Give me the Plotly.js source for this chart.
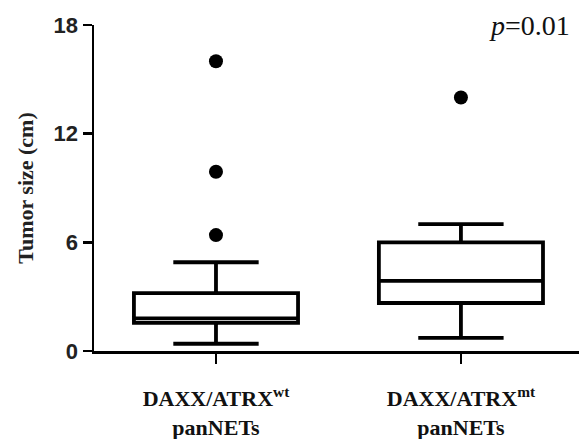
<!DOCTYPE html>
<html><head><meta charset="utf-8">
<script src="https://cdn.plot.ly/plotly-3.0.1.min.js"></script>
<style>html,body{margin:0;padding:0;background:#fff}#c{width:579px;height:439px}</style>
</head><body><div id="c"></div>
<script>
const categories = ["DAXX/ATRX<sup>wt</sup><br>panNETs", "DAXX/ATRX<sup>mt</sup><br>panNETs"];
const positions = [0, 1];
const q1 = [1.55, 2.65];
const median = [1.8, 3.87];
const q3 = [3.2, 6.0];
const lowerWhisker = [0.4, 0.72];
const upperWhisker = [4.9, 7.0];
const outlierX = [0, 0, 0, 1];
const outlierY = [16.0, 9.9, 6.4, 14.0];
const yTicks = [0, 6, 12, 18];

const traces = [
  {type: 'box', x: positions, q1: q1, median: median, q3: q3,
   lowerfence: lowerWhisker, upperfence: upperWhisker,
   width: 0.67, whiskerwidth: 0.52, fillcolor: '#ffffff',
   line: {color: '#000', width: 3.8}, boxpoints: false, hoverinfo: 'none', showlegend: false},
  {type: 'scatter', mode: 'markers', x: outlierX, y: outlierY,
   marker: {color: '#000', size: 14}, showlegend: false, hoverinfo: 'none'}
];

const layout = {
  width: 579, height: 439,
  margin: {l: 94, r: 0, t: 25, b: 88},
  paper_bgcolor: '#fff', plot_bgcolor: '#fff',
  showlegend: false,
  xaxis: {range: [-0.498, 1.482], tickvals: positions, ticktext: categories,
    showgrid: false, zeroline: false, showline: true, linecolor: '#000', linewidth: 2.5,
    ticks: 'outside', ticklen: 10, tickwidth: 2.5, tickcolor: '#000',
    ticklabelstandoff: 16,
    tickfont: {family: 'Liberation Serif, Times New Roman, serif', size: 22, color: '#111', weight: 'bold'}},
  yaxis: {range: [0, 18], tickvals: yTicks, showgrid: false, zeroline: false,
    showline: true, linecolor: '#000', linewidth: 2.5,
    ticks: 'outside', ticklen: 9, tickwidth: 2.5, tickcolor: '#000',
    tickfont: {family: 'Liberation Sans, Arial, sans-serif', size: 22, color: '#222', weight: 'bold'},
    title: {text: 'Tumor size (cm)', standoff: 14,
      font: {family: 'Liberation Serif, Times New Roman, serif', size: 22, color: '#222', weight: 'bold'}}},
  annotations: [{text: '<i>p</i>=0.01', xref: 'paper', yref: 'paper', x: 0.985, y: 1.0,
    xanchor: 'right', yanchor: 'middle', showarrow: false,
    font: {family: 'Liberation Serif, Times New Roman, serif', size: 28, color: '#111'}}]
};
Plotly.newPlot('c', traces, layout, {displayModeBar: false, staticPlot: true});
</script></body></html>
